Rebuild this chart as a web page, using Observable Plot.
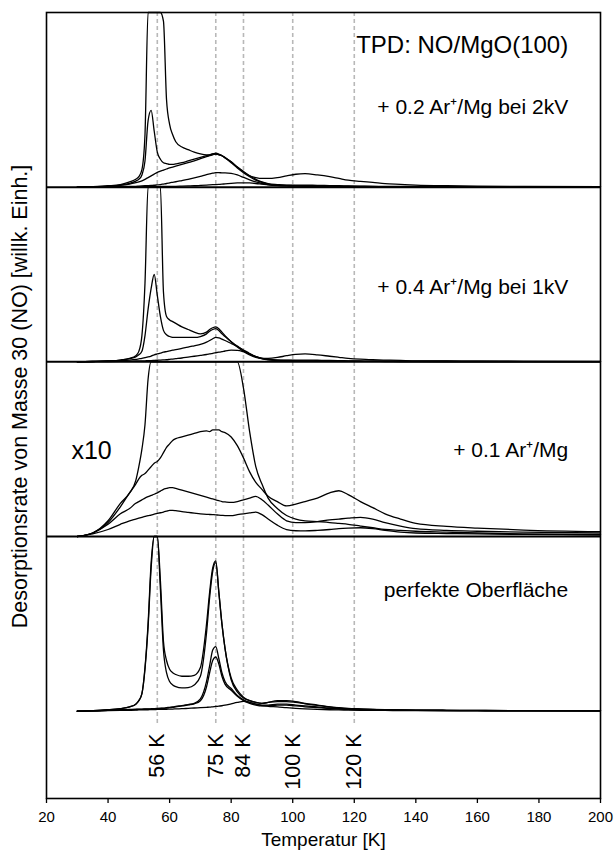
<!DOCTYPE html>
<html>
<head>
<meta charset="utf-8">
<script src="https://cdn.jsdelivr.net/npm/d3@7"></script>
<script src="https://cdn.jsdelivr.net/npm/@observablehq/plot@0.6"></script>
<style>
  html, body { margin: 0; padding: 0; background: #fff; }
  #chart svg { font-family: "Liberation Sans", Arial, Helvetica, sans-serif; display: block; }
</style>
</head>
<body>
<div id="chart"></div>
<script>
// Temperature grid (K) shared by all traces
const T = [30, 35, 40, 44, 47, 49, 50, 51, 52, 53, 54, 55, 56, 57, 58, 59, 60, 61, 62, 64, 66, 68, 70, 72, 73, 74, 75, 76, 77, 78, 80, 82, 84, 86, 88, 90, 92, 95, 98, 101, 104, 108, 112, 115, 118, 122, 126, 130, 135, 140, 150, 160, 175, 200];

// Panel 1: + 0.2 Ar+/Mg bei 2kV (values in panel-height units)
const p1a = [0, 0.003, 0.008, 0.015, 0.03, 0.045, 0.06, 0.1, 0.3, 1.2, 2, 3, 3, 1.6, 0.95, 0.5, 0.36, 0.3, 0.26, 0.23, 0.215, 0.2, 0.19, 0.185, 0.185, 0.19, 0.19, 0.185, 0.18, 0.17, 0.145, 0.115, 0.09, 0.065, 0.055, 0.05, 0.05, 0.055, 0.065, 0.074, 0.077, 0.07, 0.06, 0.05, 0.04, 0.033, 0.027, 0.02, 0.016, 0.012, 0.008, 0.006, 0.004, 0.003];
const p1b = [0, 0.002, 0.006, 0.012, 0.022, 0.035, 0.045, 0.07, 0.15, 0.38, 0.44, 0.32, 0.2, 0.16, 0.14, 0.135, 0.13, 0.13, 0.133, 0.14, 0.15, 0.16, 0.17, 0.18, 0.185, 0.19, 0.195, 0.19, 0.18, 0.17, 0.145, 0.115, 0.088, 0.065, 0.045, 0.03, 0.02, 0.015, 0.012, 0.012, 0.012, 0.01, 0.009, 0.008, 0.007, 0.006, 0.005, 0.005, 0.004, 0.004, 0.003, 0.003, 0.002, 0.002];
const p1c = [0, 0.002, 0.005, 0.01, 0.018, 0.026, 0.03, 0.036, 0.045, 0.055, 0.065, 0.075, 0.085, 0.092, 0.098, 0.104, 0.11, 0.115, 0.12, 0.13, 0.14, 0.15, 0.163, 0.175, 0.18, 0.185, 0.19, 0.187, 0.18, 0.167, 0.14, 0.11, 0.083, 0.06, 0.04, 0.027, 0.018, 0.012, 0.01, 0.009, 0.008, 0.007, 0.006, 0.005, 0.005, 0.004, 0.004, 0.003, 0.003, 0.003, 0.002, 0.002, 0.002, 0.002];
const p1d = [0, 0.001, 0.002, 0.003, 0.004, 0.005, 0.006, 0.007, 0.008, 0.009, 0.01, 0.011, 0.013, 0.015, 0.018, 0.021, 0.025, 0.028, 0.031, 0.038, 0.045, 0.053, 0.062, 0.072, 0.076, 0.08, 0.083, 0.083, 0.082, 0.082, 0.079, 0.07, 0.056, 0.042, 0.03, 0.021, 0.015, 0.01, 0.008, 0.007, 0.006, 0.005, 0.005, 0.004, 0.004, 0.003, 0.003, 0.003, 0.002, 0.002, 0.002, 0.002, 0.001, 0.001];
const p1e = [0, 0, 0.001, 0.001, 0.002, 0.002, 0.002, 0.002, 0.003, 0.003, 0.003, 0.003, 0.003, 0.004, 0.004, 0.004, 0.005, 0.005, 0.005, 0.006, 0.007, 0.008, 0.01, 0.012, 0.013, 0.014, 0.015, 0.016, 0.017, 0.019, 0.022, 0.024, 0.025, 0.024, 0.021, 0.017, 0.013, 0.009, 0.007, 0.006, 0.005, 0.004, 0.004, 0.003, 0.003, 0.003, 0.002, 0.002, 0.002, 0.002, 0.001, 0.001, 0.001, 0.001];

// Panel 2: + 0.4 Ar+/Mg bei 1kV
const p2a = [0, 0.002, 0.005, 0.01, 0.02, 0.035, 0.06, 0.15, 0.45, 1.2, 2, 3, 2.5, 1.1, 0.4, 0.26, 0.24, 0.23, 0.22, 0.2, 0.185, 0.17, 0.16, 0.17, 0.185, 0.195, 0.2, 0.19, 0.17, 0.15, 0.115, 0.085, 0.06, 0.04, 0.026, 0.02, 0.02, 0.025, 0.035, 0.043, 0.045, 0.04, 0.032, 0.026, 0.02, 0.015, 0.012, 0.01, 0.008, 0.006, 0.005, 0.004, 0.003, 0.002];
const p2b = [0, 0.002, 0.005, 0.01, 0.018, 0.028, 0.04, 0.06, 0.15, 0.3, 0.42, 0.5, 0.38, 0.26, 0.18, 0.155, 0.145, 0.14, 0.14, 0.14, 0.14, 0.14, 0.145, 0.16, 0.175, 0.185, 0.19, 0.18, 0.16, 0.145, 0.115, 0.09, 0.065, 0.045, 0.03, 0.02, 0.015, 0.01, 0.008, 0.007, 0.006, 0.005, 0.005, 0.004, 0.004, 0.003, 0.003, 0.003, 0.002, 0.002, 0.002, 0.002, 0.001, 0.001];
const p2c = [0, 0.002, 0.004, 0.007, 0.01, 0.014, 0.017, 0.02, 0.024, 0.028, 0.033, 0.04, 0.045, 0.05, 0.055, 0.059, 0.063, 0.067, 0.07, 0.077, 0.084, 0.092, 0.1, 0.113, 0.122, 0.132, 0.14, 0.137, 0.13, 0.122, 0.105, 0.088, 0.068, 0.048, 0.03, 0.017, 0.011, 0.008, 0.007, 0.006, 0.005, 0.005, 0.004, 0.004, 0.003, 0.003, 0.003, 0.002, 0.002, 0.002, 0.002, 0.001, 0.001, 0.001];
const p2d = [0, 0.001, 0.002, 0.003, 0.004, 0.005, 0.005, 0.006, 0.006, 0.007, 0.007, 0.008, 0.009, 0.01, 0.011, 0.012, 0.014, 0.016, 0.018, 0.022, 0.027, 0.032, 0.037, 0.042, 0.045, 0.049, 0.052, 0.055, 0.058, 0.062, 0.067, 0.066, 0.058, 0.045, 0.03, 0.02, 0.013, 0.009, 0.009, 0.01, 0.01, 0.009, 0.008, 0.007, 0.006, 0.005, 0.004, 0.004, 0.003, 0.003, 0.002, 0.002, 0.002, 0.001];

// Panel 3: + 0.1 Ar+/Mg (x10)
const p3a = [0, 0.02, 0.09, 0.19, 0.25, 0.32, 0.4, 0.5, 0.64, 0.9, 1.3, 2, 2, 2, 2, 2, 2, 2, 2, 2, 2, 2, 2, 2, 2, 2, 2, 2, 2, 2, 1.6, 1.1, 0.85, 0.6, 0.4, 0.3, 0.22, 0.16, 0.12, 0.1, 0.09, 0.085, 0.08, 0.075, 0.07, 0.06, 0.05, 0.04, 0.035, 0.03, 0.025, 0.02, 0.015, 0.01];
const p3b = [0, 0.02, 0.08, 0.17, 0.25, 0.3, 0.33, 0.35, 0.36, 0.38, 0.4, 0.42, 0.43, 0.45, 0.48, 0.51, 0.53, 0.55, 0.56, 0.57, 0.58, 0.59, 0.6, 0.605, 0.6, 0.61, 0.61, 0.61, 0.6, 0.595, 0.57, 0.52, 0.45, 0.37, 0.31, 0.27, 0.23, 0.2, 0.175, 0.185, 0.2, 0.22, 0.25, 0.262, 0.24, 0.2, 0.165, 0.13, 0.1, 0.075, 0.058, 0.048, 0.037, 0.028];
const p3c = [0, 0.02, 0.07, 0.13, 0.16, 0.19, 0.2, 0.21, 0.22, 0.228, 0.235, 0.242, 0.25, 0.26, 0.27, 0.275, 0.28, 0.28, 0.275, 0.265, 0.255, 0.245, 0.235, 0.225, 0.22, 0.215, 0.21, 0.205, 0.2, 0.198, 0.195, 0.2, 0.21, 0.22, 0.23, 0.21, 0.18, 0.13, 0.09, 0.08, 0.08, 0.085, 0.095, 0.1, 0.105, 0.11, 0.1, 0.08, 0.06, 0.045, 0.035, 0.03, 0.025, 0.02];
const p3d = [0, 0.015, 0.04, 0.07, 0.09, 0.1, 0.105, 0.11, 0.115, 0.12, 0.123, 0.128, 0.132, 0.136, 0.14, 0.145, 0.15, 0.15, 0.148, 0.142, 0.138, 0.134, 0.13, 0.127, 0.126, 0.125, 0.124, 0.122, 0.121, 0.12, 0.12, 0.125, 0.13, 0.135, 0.14, 0.125, 0.1, 0.065, 0.04, 0.033, 0.032, 0.035, 0.04, 0.045, 0.048, 0.05, 0.045, 0.035, 0.025, 0.02, 0.017, 0.015, 0.012, 0.01];

// Panel 4: perfekte Oberfläche
const p4a = [0, 0.003, 0.008, 0.015, 0.025, 0.04, 0.06, 0.1, 0.25, 0.5, 0.85, 1.2, 1.2, 0.75, 0.4, 0.29, 0.24, 0.22, 0.21, 0.2, 0.2, 0.205, 0.25, 0.5, 0.68, 0.82, 0.86, 0.68, 0.5, 0.36, 0.18, 0.11, 0.075, 0.06, 0.05, 0.045, 0.05, 0.06, 0.06, 0.055, 0.045, 0.035, 0.025, 0.02, 0.016, 0.013, 0.01, 0.008, 0.007, 0.006, 0.005, 0.004, 0.003, 0.003];
const p4b = [0, 0.003, 0.008, 0.015, 0.025, 0.04, 0.06, 0.1, 0.24, 0.48, 0.82, 1.1, 1.1, 0.7, 0.35, 0.22, 0.17, 0.15, 0.14, 0.133, 0.135, 0.15, 0.2, 0.45, 0.65, 0.8, 0.85, 0.68, 0.5, 0.36, 0.19, 0.12, 0.08, 0.06, 0.05, 0.045, 0.05, 0.055, 0.055, 0.05, 0.042, 0.033, 0.024, 0.019, 0.015, 0.012, 0.01, 0.008, 0.007, 0.006, 0.005, 0.004, 0.003, 0.003];
const p4c = [0, 0.002, 0.005, 0.008, 0.01, 0.011, 0.012, 0.012, 0.013, 0.013, 0.014, 0.015, 0.016, 0.017, 0.018, 0.02, 0.022, 0.024, 0.027, 0.032, 0.038, 0.045, 0.07, 0.17, 0.26, 0.35, 0.37, 0.3, 0.22, 0.17, 0.13, 0.09, 0.065, 0.05, 0.04, 0.035, 0.035, 0.04, 0.04, 0.035, 0.03, 0.024, 0.018, 0.015, 0.012, 0.01, 0.008, 0.007, 0.006, 0.005, 0.004, 0.003, 0.003, 0.002];
const p4d = [0, 0.002, 0.004, 0.006, 0.008, 0.009, 0.01, 0.01, 0.011, 0.011, 0.012, 0.013, 0.014, 0.015, 0.016, 0.018, 0.02, 0.022, 0.025, 0.03, 0.036, 0.042, 0.06, 0.14, 0.22, 0.29, 0.31, 0.27, 0.2, 0.155, 0.12, 0.085, 0.06, 0.045, 0.035, 0.03, 0.03, 0.035, 0.035, 0.03, 0.025, 0.02, 0.015, 0.012, 0.01, 0.008, 0.007, 0.006, 0.005, 0.004, 0.003, 0.003, 0.002, 0.002];
const p4e = [0, 0.001, 0.003, 0.004, 0.005, 0.006, 0.007, 0.007, 0.008, 0.008, 0.009, 0.009, 0.01, 0.01, 0.011, 0.011, 0.012, 0.012, 0.013, 0.014, 0.016, 0.018, 0.02, 0.022, 0.023, 0.025, 0.027, 0.029, 0.031, 0.034, 0.042, 0.05, 0.056, 0.05, 0.04, 0.032, 0.028, 0.025, 0.02, 0.016, 0.013, 0.01, 0.008, 0.007, 0.006, 0.005, 0.004, 0.004, 0.003, 0.003, 0.002, 0.002, 0.002, 0.001];

// Marker temperatures and x-axis ticks
const markerT = [56, 75, 84, 100, 120];
const xTicks = [20, 40, 60, 80, 100, 120, 140, 160, 180, 200];

// Panel texts (top to bottom)
const panelLabels = ["+ 0.2 Ar\u207A/Mg bei 2kV", "+ 0.4 Ar\u207A/Mg bei 1kV", "+ 0.1 Ar\u207A/Mg", "perfekte Oberfläche"];
const titleText = "TPD: NO/MgO(100)";
const scaleNote = "x10";
const xLabel = "Temperatur [K]";
const yLabel = "Desorptionsrate von Masse 30 (NO) [willk. Einh.]";

// Build the stacked table: each panel gets a vertical offset of one unit
const panels = [
  {offset: 3, curves: [p1a, p1b, p1c, p1d, p1e]},
  {offset: 2, curves: [p2a, p2b, p2c, p2d]},
  {offset: 1, curves: [p3a, p3b, p3c, p3d]},
  {offset: 0, curves: [p4a, p4b, p4c, p4d, p4e]}
];
const rows = [];
panels.forEach((p, pi) => {
  p.curves.forEach((vals, ci) => {
    vals.forEach((v, i) => {
      rows.push({id: `${pi}-${ci}`, T: T[i], y: p.offset + Math.min(v, 1)});
    });
  });
});

const labelY = [3.456, 2.427, 1.492, 0.69];
const labelRows = panelLabels.map((t, i) => ({t, y: labelY[i]}));

const fontSans = "Liberation Sans, Arial, Helvetica, sans-serif";

const chart = Plot.plot({
  width: 614,
  height: 853,
  marginTop: 12,
  marginLeft: 46,
  marginRight: 14,
  marginBottom: 55,
  style: {fontFamily: fontSans, background: "#fff", color: "#000"},
  x: {domain: [20, 200], axis: null},
  y: {domain: [-0.5, 4], axis: null},
  marks: [
    Plot.ruleX(markerT, {y1: () => -0.07, y2: () => 4, stroke: "#b8b8b8", strokeWidth: 1.6, strokeDasharray: "4,3"}),
    Plot.line(rows, {x: "T", y: "y", z: "id", stroke: "#000", strokeWidth: 1.3, curve: "monotone-x"}),
    Plot.ruleY([1, 2, 3], {stroke: "#000", strokeWidth: 2}),
    Plot.frame({stroke: "#000", strokeWidth: 1.6}),
    Plot.axisX({ticks: xTicks, tickSize: 5, tickPadding: 8, fontSize: 15, tickFormat: d => String(d), label: null, strokeWidth: 1.3}),
    Plot.text(markerT, {x: d => d, y: () => -0.128, text: d => `${d} K`, rotate: -90, textAnchor: "end", fontSize: 21.5, fill: "#000"}),
    Plot.text(labelRows, {x: () => 189.5, y: "y", text: "t", textAnchor: "end", fontSize: 21, fill: "#000"}),
    Plot.text([titleText], {x: () => 189.5, y: () => 3.81, text: d => d, textAnchor: "end", fontSize: 24, fill: "#000"}),
    Plot.text([scaleNote], {x: () => 28.1, y: () => 1.492, text: d => d, textAnchor: "start", fontSize: 25, fill: "#000"}),
    Plot.text([xLabel], {frameAnchor: "bottom", dy: 41, lineAnchor: "middle", text: d => d, fontSize: 19, fill: "#000"}),
    Plot.text([yLabel], {frameAnchor: "left", dx: -26, dy: -9, rotate: -90, textAnchor: "middle", text: d => d, fontSize: 21.5, fill: "#000"})
  ]
});

document.getElementById("chart").appendChild(chart);
</script>
</body>
</html>
